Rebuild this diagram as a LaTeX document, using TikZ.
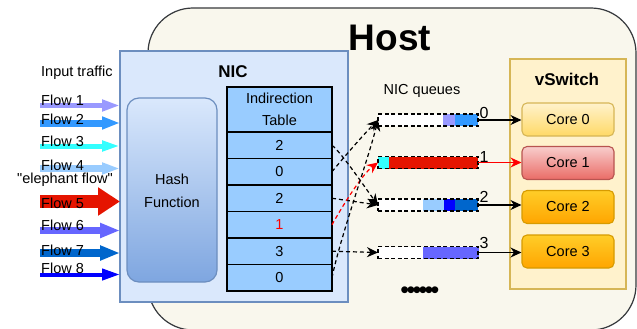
\documentclass[tikz,border=0pt]{standalone}
\usepackage{fontspec}
\setmainfont{Liberation Sans}
\usetikzlibrary{arrows.meta,calc}
\definecolor{hostfill}{HTML}{F9F7ED}
\definecolor{hostline}{HTML}{36393D}
\definecolor{nicfill}{HTML}{DAE8FC}
\definecolor{nicline}{HTML}{6C8EBF}
\definecolor{hashtop}{HTML}{DAE8FC}
\definecolor{hashbot}{HTML}{7EA6E0}
\definecolor{tabfill}{HTML}{99CCFF}
\definecolor{vsfill}{HTML}{FFF2CC}
\definecolor{vsline}{HTML}{D6B656}
\definecolor{cAtop}{HTML}{FFF2CC}
\definecolor{cAbot}{HTML}{FFD966}
\definecolor{cBtop}{HTML}{F8CECC}
\definecolor{cBbot}{HTML}{EA6B66}
\definecolor{cBline}{HTML}{B85450}
\definecolor{cCtop}{HTML}{FFCD28}
\definecolor{cCbot}{HTML}{FFA500}
\definecolor{cCline}{HTML}{D79B00}
\definecolor{fA}{HTML}{9999FF}
\definecolor{fB}{HTML}{3399FF}
\definecolor{fC}{HTML}{33FFFF}
\definecolor{fD}{HTML}{99CCFF}
\definecolor{fE}{HTML}{E51400}
\definecolor{fF}{HTML}{6666FF}
\definecolor{fG}{HTML}{0066CC}
\definecolor{fH}{HTML}{0000FF}
\definecolor{redline}{HTML}{FF0000}
\begin{document}
\begin{tikzpicture}[x=1pt,y=-1pt,
  txt/.style={font=\fontsize{14.5}{17}\selectfont, inner sep=0pt},
  hostbox/.style={draw=hostline, fill=hostfill, line width=1.2pt, rounded corners=45pt, inner sep=0pt, outer sep=0pt},
  nicbox/.style={draw=nicline, fill=nicfill, line width=1.2pt, inner sep=0pt, outer sep=0pt},
  hashbox/.style={draw=nicline, top color=hashtop, bottom color=hashbot, rounded corners=12pt, line width=1.2pt, inner sep=0pt, outer sep=0pt},
  tabcell/.style={draw=black, fill=tabfill, line width=1.1pt, minimum width=105pt, inner sep=0pt, outer sep=0pt, font=\fontsize{14.5}{17}\selectfont},
  queue/.style={draw=black, dash pattern=on 4pt off 2.5pt, line width=1.1pt, minimum width=100pt, minimum height=12pt, inner sep=0pt, outer sep=0pt, anchor=west},
  vsbox/.style={draw=vsline, fill=vsfill, line width=1.2pt, inner sep=0pt, outer sep=0pt},
  corebox/.style={rounded corners=5pt, line width=1.1pt, minimum width=92pt, minimum height=33pt, inner sep=0pt, font=\fontsize{14.5}{17}\selectfont},
  coreA/.style={corebox, draw=vsline, top color=cAtop, bottom color=cAbot},
  coreB/.style={corebox, draw=cBline, top color=cBtop, bottom color=cBbot},
  coreC/.style={corebox, draw=cCline, top color=cCtop, bottom color=cCbot},
  dconn/.style={draw=black, dash pattern=on 4pt off 3pt, line width=1.2pt, -{Stealth[length=11pt,width=10pt]}},
  sconn/.style={draw=black, line width=1.2pt, -{Stealth[length=11pt,width=10pt]}},
  qlbl/.style={font=\fontsize{16}{18}\selectfont, inner sep=0pt, anchor=base},
  flowlbl/.style={txt, anchor=base west},
  boldlbl/.style={font=\fontsize{17}{19}\selectfont\bfseries, inner sep=0pt}
]
\useasboundingbox (0,0) rectangle (637,329);

% Host
\node[hostbox, anchor=north west, minimum width=488pt, minimum height=322pt] (host) at (148,8) {};
\node[font=\fontsize{37}{40}\selectfont\bfseries, inner sep=0pt] (hostlbl) at (390,38) {Host};

% NIC
\node[nicbox, anchor=north west, minimum width=228pt, minimum height=251pt] (nic) at (120,51) {};
\node[boldlbl] (niclbl) at (233,72) {NIC};
\node[hashbox, anchor=north west, minimum width=90pt, minimum height=184pt] (hash) at (127,98) {};
\node[txt, align=center, font=\fontsize{14.5}{23}\selectfont] (hashlbl) at (172,191) {Hash\\Function};

% Indirection table
\node[tabcell, anchor=north west, minimum height=45pt, align=center, font=\fontsize{14.5}{22}\selectfont] (tabh) at (227,87) {Indirection\\Table};
\node[tabcell, anchor=north, minimum height=26.5pt] (r1) at (tabh.south) {2};
\node[tabcell, anchor=north, minimum height=26.5pt] (r2) at (r1.south) {0};
\node[tabcell, anchor=north, minimum height=26.5pt] (r3) at (r2.south) {2};
\node[tabcell, anchor=north, minimum height=26.5pt, text=redline] (r4) at (r3.south) {1};
\node[tabcell, anchor=north, minimum height=26.5pt] (r5) at (r4.south) {3};
\node[tabcell, anchor=north, minimum height=26.5pt] (r6) at (r5.south) {0};

% vSwitch
\node[vsbox, anchor=north west, minimum width=116pt, minimum height=230pt] (vs) at (510,59) {};
\node[boldlbl] (vslbl) at (567,79.5) {vSwitch};
\node[coreA] (c0) at (568,119.5) {Core 0};
\node[coreB] (c1) at (568,163) {Core 1};
\node[coreC] (c2) at (568,207) {Core 2};
\node[coreC] (c3) at (568,251.5) {Core 3};

% NIC queues
\node[txt, anchor=base] (qlbl) at (422,95) {NIC queues};
% queue contents
\fill[white] (378,114) rectangle (478,126);
\fill[fA] (443,114) rectangle (455,126);
\fill[fB] (455,114) rectangle (478,126);
\fill[fC] (378,156.5) rectangle (389,168.5);
\fill[fE] (389,156.5) rectangle (478,168.5);
\fill[white] (378,199) rectangle (478,211);
\fill[fD] (423,199) rectangle (444,211);
\fill[fH] (444,199) rectangle (455,211);
\fill[fG] (455,199) rectangle (478,211);
\fill[white] (378,246.5) rectangle (478,258.5);
\fill[fF] (423,246.5) rectangle (479,258.5);
\node[queue] (q0) at (378,120) {};
\node[queue] (q1) at (378,162.5) {};
\node[queue] (q2) at (378,205) {};
\node[queue] (q3) at (378,252.5) {};
\node[qlbl] (n0) at (484,118) {0};
\node[qlbl] (n1) at (484,162) {1};
\node[qlbl] (n2) at (484,202) {2};
\node[qlbl] (n3) at (484,248) {3};
\node[font=\fontsize{25}{25}\selectfont, inner sep=0pt] (dots) at (420,293) {•\kern-2.7pt•\kern-2.7pt•\kern-2.7pt•\kern-2.7pt•\kern-2.7pt•};

% queue to core
\draw[sconn] (q0.east) -- (q0.east -| c0.west);
\draw[sconn, draw=redline] (q1.east) -- (q1.east -| c1.west);
\draw[sconn] (q2.east) -- (q2.east -| c2.west);
\draw[sconn] (q3.east) -- (q3.east -| c3.west);

% table to queues
\draw[dconn] (r1.east) .. controls +(10,8) and +(-12,-16) .. (q2.west);
\draw[dconn] (r2.east) .. controls +(8,-10) and +(-14,14) .. (q0.west);
\draw[dconn] (r3.east) -- (q2.west);
\draw[dconn, draw=redline] (r4.east) .. controls +(10,-18) and +(-16,12) .. (q1.west);
\draw[dconn] (r5.east) -- (q3.west);
\draw[dconn] (r6.east) .. controls +(8,-40) and +(-10,40) .. (q0.west);

% input flows
\coordinate (f1) at (40,105.5);
\coordinate (f2) at (40,123);
\coordinate (f3) at (40,146);
\coordinate (f4) at (40,168.5);
\coordinate (f5) at (40,201.5);
\coordinate (f6) at (40,230.5);
\coordinate (f7) at (40,253);
\coordinate (f8) at (40,274.5);
\draw[line width=5pt, fA, -{Triangle[length=18pt,width=11pt]}] (f1) -- (f1 -| nic.west);
\draw[line width=7pt, fB, -{Triangle[length=18pt,width=12pt]}] (f2) -- (f2 -| nic.west);
\draw[line width=5pt, fC, -{Triangle[length=18pt,width=10pt]}] (f3) -- (f3 -| nic.west);
\draw[line width=7pt, fD, -{Triangle[length=18pt,width=11pt]}] (f4) -- (f4 -| nic.west);
\draw[line width=13pt, fE, -{Triangle[length=22pt,width=27pt]}] (f5) -- (f5 -| nic.west);
\draw[line width=7pt, fF, -{Triangle[length=20pt,width=14pt]}] (f6) -- (f6 -| nic.west);
\draw[line width=8pt, fG, -{Triangle[length=20pt,width=14pt]}] (f7) -- (f7 -| nic.west);
\draw[line width=4pt, fH, -{Triangle[length=18pt,width=11pt]}] (f8) -- (f8 -| nic.west);

\node[flowlbl] (inlbl) at (41,77) {Input traffic};
\node[flowlbl] (l1) at (41,105) {Flow 1};
\node[flowlbl] (l2) at (41,124) {Flow 2};
\node[flowlbl] (l3) at (41,146) {Flow 3};
\node[flowlbl] (l4) at (41,170) {Flow 4};
\node[txt, anchor=base] (ele) at (65,183) {\textquotedbl elephant flow\textquotedbl};
\node[flowlbl] (l5) at (41,208) {Flow 5};
\node[flowlbl] (l6) at (41,230) {Flow 6};
\node[flowlbl] (l7) at (41,255) {Flow 7};
\node[flowlbl] (l8) at (41,273) {Flow 8};
\end{tikzpicture}
\end{document}
